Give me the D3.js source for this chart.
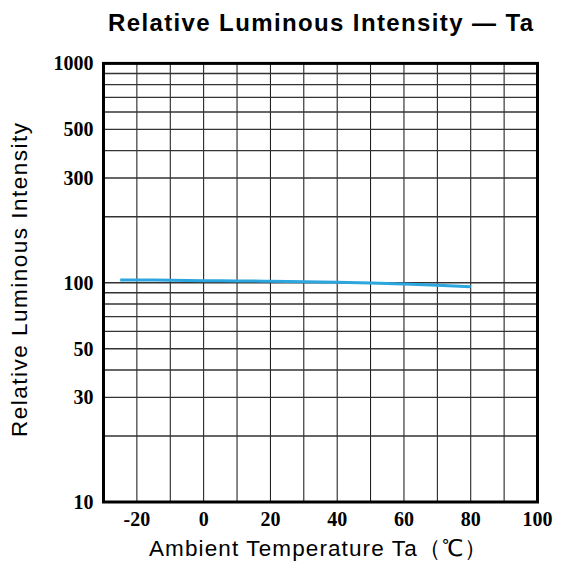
<!DOCTYPE html>
<html>
<head>
<meta charset="utf-8">
<script src="https://cdn.jsdelivr.net/npm/d3@7"></script>
<style>
  body { margin: 0; background: #fff; }
</style>
</head>
<body>
<div id="chart"></div>
<script>
// readings taken off the curve
const temps = [-25, -10, 0, 10, 20, 30, 40, 50, 60, 70, 80];
const intensity = [103, 102.6, 102.2, 101.9, 101.5, 101, 100.4, 99.6, 98.6, 97.4, 95.9];

const xTicks = [-20, 0, 20, 40, 60, 80, 100];
const xGrid = d3.range(-30, 101, 10);
const yTicks = [10, 30, 50, 100, 300, 500, 1000];
const yGrid = [20, 30, 40, 50, 60, 70, 80, 90, 100, 200, 300, 400, 500, 600, 700, 800, 900];

const width = 566, height = 571;
const margin = { top: 63.4, right: 28.5, bottom: 69, left: 103.5 };

const svg = d3.select("#chart").append("svg")
    .attr("width", width)
    .attr("height", height);

const x = d3.scaleLinear().domain([-30, 100]).range([margin.left, width - margin.right]);
const y = d3.scaleLog().domain([10, 1000]).range([height - margin.bottom, margin.top]);

// grid
svg.append("g")
    .selectAll("line")
    .data(xGrid)
    .join("line")
    .attr("x1", d => x(d)).attr("x2", d => x(d))
    .attr("y1", y(1000)).attr("y2", y(10))
    .attr("stroke", "#111")
    .attr("stroke-width", 1);

svg.append("g")
    .selectAll("line")
    .data(yGrid)
    .join("line")
    .attr("x1", x(-30)).attr("x2", x(100))
    .attr("y1", d => y(d)).attr("y2", d => y(d))
    .attr("stroke", "#333")
    .attr("stroke-width", 1.4);

// curve
const line = d3.line()
    .x((d, i) => x(temps[i]))
    .y(d => y(d))
    .curve(d3.curveMonotoneX);

svg.append("path")
    .datum(intensity)
    .attr("fill", "none")
    .attr("stroke", "#2ba6de")
    .attr("stroke-width", 3)
    .attr("d", line);

// frame
svg.append("rect")
    .attr("x", x(-30)).attr("y", y(1000))
    .attr("width", x(100) - x(-30))
    .attr("height", y(10) - y(1000))
    .attr("fill", "none")
    .attr("stroke", "#000")
    .attr("stroke-width", 3);

// tick labels
svg.append("g")
    .selectAll("text")
    .data(yTicks)
    .join("text")
    .attr("x", x(-30) - 10)
    .attr("y", d => y(d))
    .attr("dy", "0.35em")
    .attr("text-anchor", "end")
    .attr("font-family", "'Liberation Serif', 'Times New Roman', serif")
    .attr("font-weight", "bold")
    .attr("font-size", 20)
    .text(d => d);

svg.append("g")
    .selectAll("text")
    .data(xTicks)
    .join("text")
    .attr("x", d => x(d))
    .attr("y", y(10) + 24)
    .attr("text-anchor", "middle")
    .attr("font-family", "'Liberation Serif', 'Times New Roman', serif")
    .attr("font-weight", "bold")
    .attr("font-size", 20)
    .text(d => d);

// titles
svg.append("text")
    .attr("x", 320.5)
    .attr("y", 31)
    .attr("text-anchor", "middle")
    .attr("font-family", "'Liberation Sans', Arial, sans-serif")
    .attr("font-weight", "bold")
    .attr("font-size", 24)
    .attr("textLength", 425)
    .attr("lengthAdjust", "spacing")
    .text("Relative Luminous Intensity — Ta");

svg.append("text")
    .attr("x", 318)
    .attr("y", 556)
    .attr("text-anchor", "middle")
    .attr("font-family", "'Liberation Sans', Arial, sans-serif")
    .attr("font-size", 22.5)
    .attr("textLength", 338)
    .attr("lengthAdjust", "spacing")
    .text("Ambient Temperature  Ta（℃）");

svg.append("text")
    .attr("transform", "translate(27,280) rotate(-90)")
    .attr("text-anchor", "middle")
    .attr("font-family", "'Liberation Sans', Arial, sans-serif")
    .attr("font-size", 22.5)
    .attr("textLength", 314)
    .attr("lengthAdjust", "spacing")
    .text("Relative Luminous Intensity");
</script>
</body>
</html>
